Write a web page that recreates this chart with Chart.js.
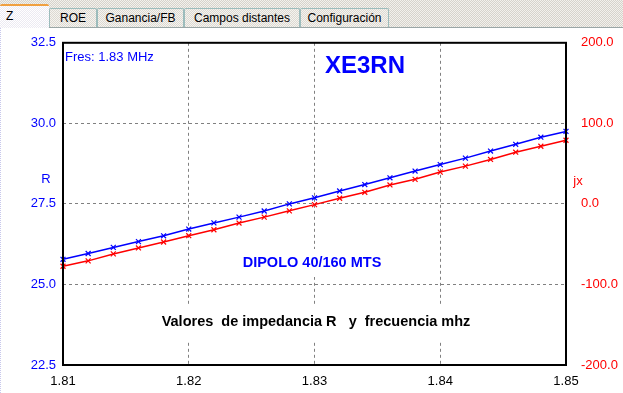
<!DOCTYPE html>
<html><head><meta charset="utf-8">
<script src="https://cdn.jsdelivr.net/npm/chart.js@4/dist/chart.umd.min.js"></script>
<style>
html,body{margin:0;padding:0;background:#fff;width:623px;height:393px;overflow:hidden;font-family:"Liberation Sans",Arial,sans-serif;}
#tabs{position:absolute;left:0;top:0;width:623px;height:27px;background:repeating-conic-gradient(#d6d3cc 0 25%,#f3f1ec 0 50%) 0 0/2px 2px;border-bottom:1px solid #9aa6a6;}
.tab{position:absolute;top:8px;height:19px;font-size:12px;line-height:19px;text-align:center;color:#000;border:1px solid #9cbcbc;border-bottom:none;box-sizing:border-box;background:repeating-conic-gradient(#dcd9d2 0 25%,#f5f3ef 0 50%) 0 0/2px 2px;border-radius:2px 2px 0 0;}
.tab.act{top:4px;height:24px;background:repeating-conic-gradient(#eceaf2 0 25%,#fff 0 50%) 0 0/2px 2px;border:none;border-top:2px solid #f0a040;line-height:20px;}
#wrap{position:absolute;left:0;top:28px;width:623px;height:365px;border-left:1px dotted #c8c8ec;box-sizing:border-box;}
canvas{position:absolute;left:0;top:28px;}
</style></head>
<body>
<div id="tabs">
<div class="tab act" style="left:0;width:49px;text-align:left;padding-left:6px;">Z</div>
<div class="tab" style="left:49px;width:48px;">ROE</div>
<div class="tab" style="left:97px;width:87px;">Ganancia/FB</div>
<div class="tab" style="left:184px;width:116px;">Campos distantes</div>
<div class="tab" style="left:300px;width:89px;">Configuración</div>
</div>
<div id="wrap"></div>
<canvas id="c" width="623" height="365"></canvas>
<script>
const freqs = [1.810,1.812,1.814,1.816,1.818,1.820,1.822,1.824,1.826,1.828,1.830,1.832,1.834,1.836,1.838,1.840,1.842,1.844,1.846,1.848,1.850];
const rValues = [25.78,25.96,26.15,26.33,26.51,26.72,26.91,27.09,27.28,27.50,27.69,27.90,28.10,28.31,28.52,28.72,28.92,29.14,29.35,29.57,29.75];
const jxValues = [-77.4,-70.7,-62.1,-54.7,-47.3,-39.5,-32.1,-23.8,-16.4,-8.6,-0.9,7.0,14.4,23.5,30.5,39.5,46.9,55.2,64.2,71.6,79.0];
const xTicks = [1.81,1.82,1.83,1.84,1.85];
const rTicks = [22.5,25.0,27.5,30.0,32.5];
const jxTicks = [-200,-100,0,100,200];

const FONT = '"Liberation Sans", Arial, sans-serif';

const textPlugin = {
  id:'texts',
  beforeDatasetsDraw(chart){
    const ctx = chart.ctx;
    const a = chart.chartArea;
    ctx.save();
    function boxText(t, x, y, font, color, align, pad){
      ctx.font = font;
      ctx.textAlign = align; ctx.textBaseline = 'middle';
      const w = ctx.measureText(t).width;
      let l = align==='center' ? x - w/2 : x;
      ctx.fillStyle = '#fff';
      ctx.fillRect(l-2, y-pad, w+4, pad*2);
      ctx.fillStyle = color;
      ctx.fillText(t, x, y);
    }
    boxText('Fres: 1.83 MHz', a.left+2, 29, '13px '+FONT, '#0000ff', 'left', 8);
    boxText('XE3RN', 365, 38, 'bold 24px '+FONT, '#0000ff', 'center', 14);
    boxText('DIPOLO 40/160 MTS', 312, 235, 'bold 14.5px '+FONT, '#0000ff', 'center', 14);
    boxText('Valores  de impedancia R   y  frecuencia mhz', 316, 294, 'bold 14.5px '+FONT, '#000', 'center', 18);
    ctx.font = '13px '+FONT; ctx.textBaseline='middle';
    ctx.fillStyle = '#0000ff'; ctx.textAlign='center';
    ctx.fillText('R', 46, 151);
    ctx.fillStyle = '#ff0000';
    ctx.fillText('jx', 578, 153);
    ctx.restore();
  },
  afterDraw(chart){
    const ctx = chart.ctx, a = chart.chartArea;
    ctx.save();
    ctx.strokeStyle = '#000'; ctx.lineWidth = 2;
    ctx.strokeRect(a.left, a.top, a.right-a.left, a.bottom-a.top);
    ctx.restore();
  }
};

new Chart(document.getElementById('c'), {
  type:'line',
  data:{
    datasets:[
      {label:'R', data: freqs.map((f,i)=>({x:f,y:rValues[i]})), yAxisID:'y', borderColor:'#0000ff', backgroundColor:'#0000ff', borderWidth:1.5, pointStyle:'crossRot', pointRadius:3.5, pointBorderWidth:1.2, tension:0, clip:false},
      {label:'jx', data: freqs.map((f,i)=>({x:f,y:jxValues[i]})), yAxisID:'y1', borderColor:'#ff0000', backgroundColor:'#ff0000', borderWidth:1.5, pointStyle:'crossRot', pointRadius:3.5, pointBorderWidth:1.2, tension:0, clip:false}
    ]
  },
  options:{
    responsive:false, animation:false,
    layout:{padding:{top:13,left:0,right:0,bottom:0}},
    plugins:{legend:{display:false}, tooltip:{enabled:false}},
    scales:{
      x:{type:'linear', min:1.81, max:1.85,
        afterBuildTicks(s){ s.ticks = xTicks.map(v=>({value:v})); },
        afterFit(s){ s.height = 28; },
        ticks:{color:'#000', font:{family:FONT,size:13}, padding:9, maxRotation:0, callback:v=>v.toFixed(2)},
        grid:{color:'#808080', drawTicks:false, lineWidth:1, tickLength:0},
        border:{display:false, dash:[3,3]}
      },
      y:{position:'left', min:22.5, max:32.5,
        afterBuildTicks(s){ s.ticks = rTicks.map(v=>({value:v})); },
        afterFit(s){ s.width = 63; },
        ticks:{color:'#0000ff', font:{family:FONT,size:13}, padding:7, callback:v=>v.toFixed(1)},
        grid:{color:'#808080', drawTicks:false, lineWidth:1},
        border:{display:false, dash:[3,3]}
      },
      y1:{position:'right', min:-200, max:200,
        afterBuildTicks(s){ s.ticks = jxTicks.map(v=>({value:v})); },
        afterFit(s){ s.width = 57; },
        ticks:{color:'#ff0000', font:{family:FONT,size:13}, padding:7, callback:v=>v.toFixed(1)},
        grid:{display:false},
        border:{display:false}
      }
    }
  },
  plugins:[textPlugin]
});
</script>
</body></html>
